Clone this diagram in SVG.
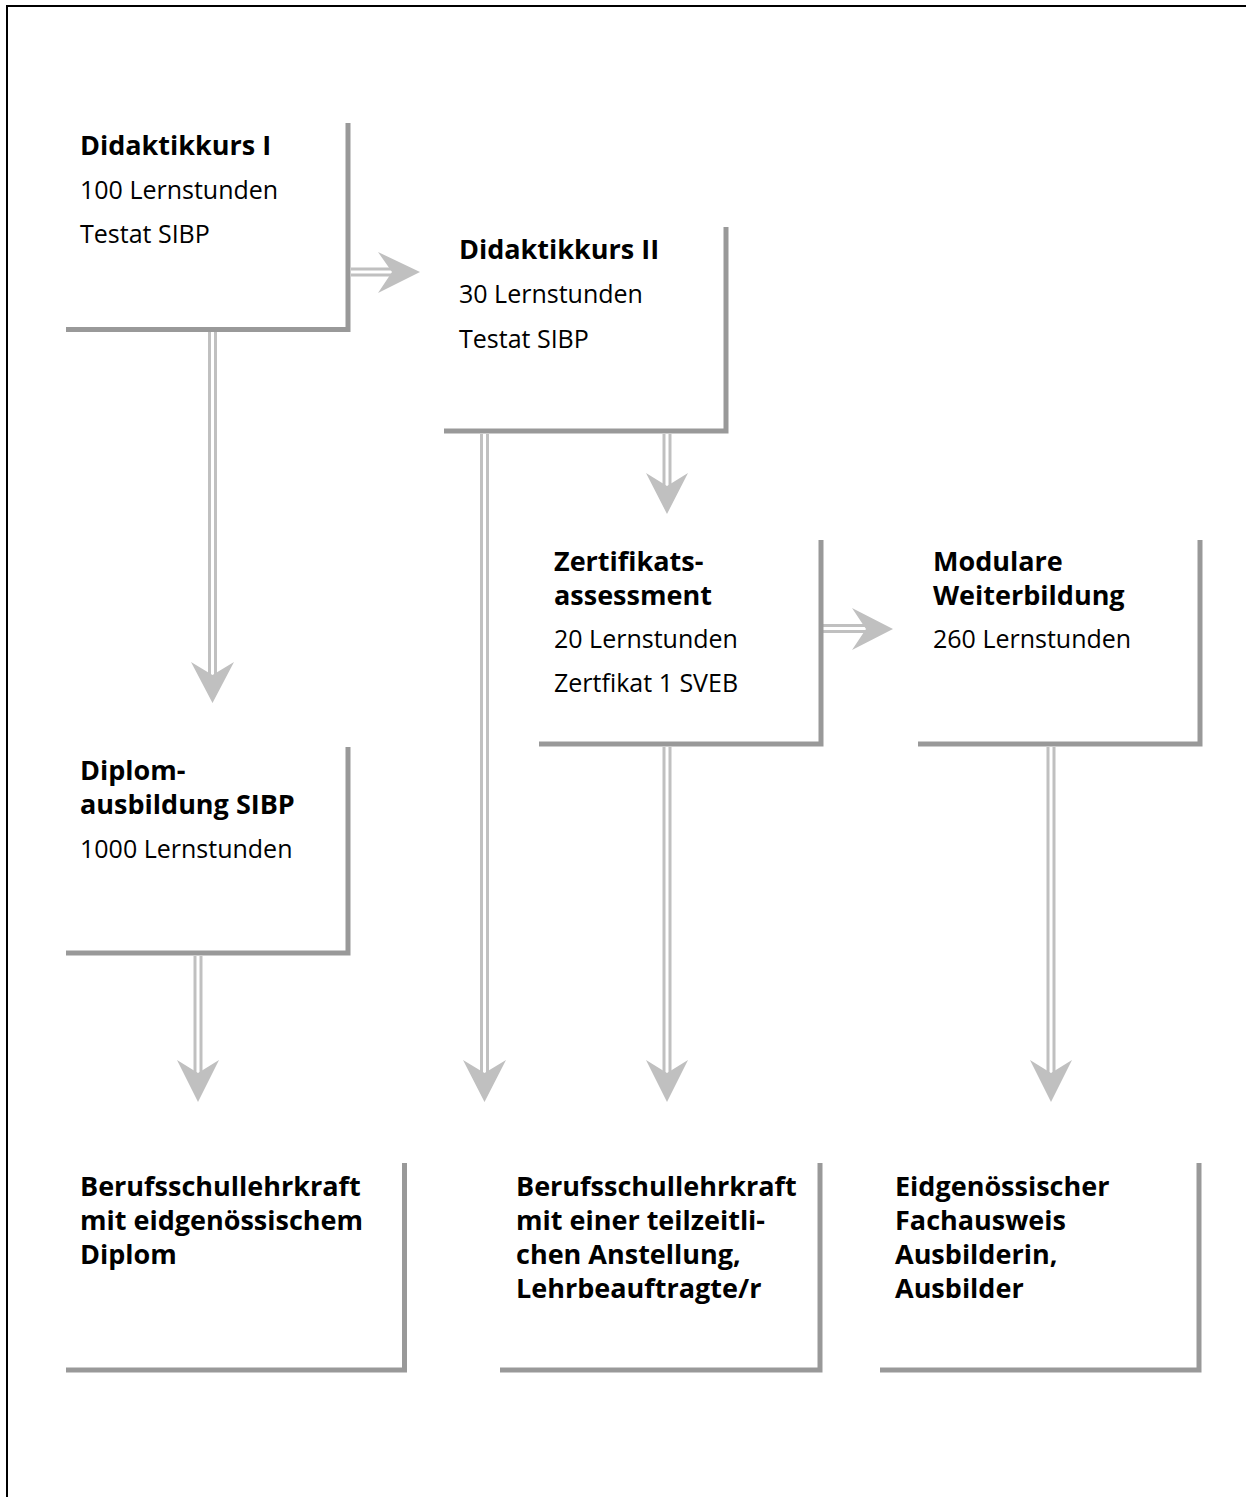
<svg xmlns="http://www.w3.org/2000/svg" width="1246" height="1497" viewBox="0 0 1246 1497">
<style>
.frame{fill:none;stroke:#000;stroke-width:2}
.box{fill:none;stroke:#999;stroke-width:5;stroke-linejoin:miter}
.ln{stroke:#c0c0c0;stroke-width:3}
.hd{fill:#c0c0c0}
text{font-family:"Open Sans","Liberation Sans",sans-serif;font-size:25px;fill:#000}
.b{font-weight:bold;font-size:27px}
</style>
<rect width="1246" height="1497" fill="#fff"/>
<rect class="frame" x="7" y="6" width="1260" height="1510"/>
<g id="connectors">
<g id="a1"><line class="ln" x1="351" y1="269" x2="394" y2="269"/><line class="ln" x1="351" y1="275" x2="394" y2="275"/><polygon class="hd" points="378,252 420,272 378,293 392,272"/></g>
<g id="a2"><line class="ln" x1="209.5" y1="332" x2="209.5" y2="676"/><line class="ln" x1="215.5" y1="332" x2="215.5" y2="676"/><polygon class="hd" points="191,662 212.5,703 234,662 212.5,675"/></g>
<g id="a3"><line class="ln" x1="195" y1="956" x2="195" y2="1074"/><line class="ln" x1="201" y1="956" x2="201" y2="1074"/><polygon class="hd" points="177,1060 198,1102 219,1060 198,1073"/></g>
<g id="a4"><line class="ln" x1="481.5" y1="434" x2="481.5" y2="1074"/><line class="ln" x1="487.5" y1="434" x2="487.5" y2="1074"/><polygon class="hd" points="463,1060 484.5,1102 506,1060 484.5,1073"/></g>
<g id="a5"><line class="ln" x1="664" y1="434" x2="664" y2="487"/><line class="ln" x1="670" y1="434" x2="670" y2="487"/><polygon class="hd" points="646,473 667,514 688,473 667,486"/></g>
<g id="a6"><line class="ln" x1="664" y1="747" x2="664" y2="1074"/><line class="ln" x1="670" y1="747" x2="670" y2="1074"/><polygon class="hd" points="646,1060 667,1102 688,1060 667,1073"/></g>
<g id="a7"><line class="ln" x1="1048" y1="747" x2="1048" y2="1074"/><line class="ln" x1="1054" y1="747" x2="1054" y2="1074"/><polygon class="hd" points="1030,1060 1051,1102 1072,1060 1051,1073"/></g>
<g id="a8"><line class="ln" x1="823" y1="625.5" x2="867" y2="625.5"/><line class="ln" x1="823" y1="631.5" x2="867" y2="631.5"/><polygon class="hd" points="852,608 893,629 852,650 866,629"/></g>
</g>
<g id="n1"><path class="box" d="M66,329.5 H348 V123"/><text class="b" x="80" y="155">Didaktikkurs I</text><text x="80" y="199">100 Lernstunden</text><text x="80" y="243">Testat SIBP</text></g>
<g id="n2"><path class="box" d="M444,431 H726 V227"/><text class="b" x="459" y="259">Didaktikkurs II</text><text x="459" y="303">30 Lernstunden</text><text x="459" y="348">Testat SIBP</text></g>
<g id="n3"><path class="box" d="M66,953 H348 V747"/><text class="b" x="80" y="780">Diplom-</text><text class="b" x="80" y="814">ausbildung SIBP</text><text x="80" y="858">1000 Lernstunden</text></g>
<g id="n4"><path class="box" d="M539,744 H821 V540"/><text class="b" x="554" y="571">Zertifikats-</text><text class="b" x="554" y="605">assessment</text><text x="554" y="648">20 Lernstunden</text><text x="554" y="692">Zertfikat 1 SVEB</text></g>
<g id="n5"><path class="box" d="M918,744 H1200 V540"/><text class="b" x="933" y="571">Modulare</text><text class="b" x="933" y="605">Weiterbildung</text><text x="933" y="648">260 Lernstunden</text></g>
<g id="n6"><path class="box" d="M66,1370 H404.5 V1163"/><text class="b" x="80" y="1196">Berufsschullehrkraft</text><text class="b" x="80" y="1230">mit eidgenössischem</text><text class="b" x="80" y="1264">Diplom</text></g>
<g id="n7"><path class="box" d="M500,1370 H820 V1163"/><text class="b" x="516" y="1196">Berufsschullehrkraft</text><text class="b" x="516" y="1230">mit einer teilzeitli-</text><text class="b" x="516" y="1264">chen Anstellung,</text><text class="b" x="516" y="1298">Lehrbeauftragte/r</text></g>
<g id="n8"><path class="box" d="M880,1370 H1199 V1163"/><text class="b" x="895" y="1196">Eidgenössischer</text><text class="b" x="895" y="1230">Fachausweis</text><text class="b" x="895" y="1264">Ausbilderin,</text><text class="b" x="895" y="1298">Ausbilder</text></g>
</svg>
